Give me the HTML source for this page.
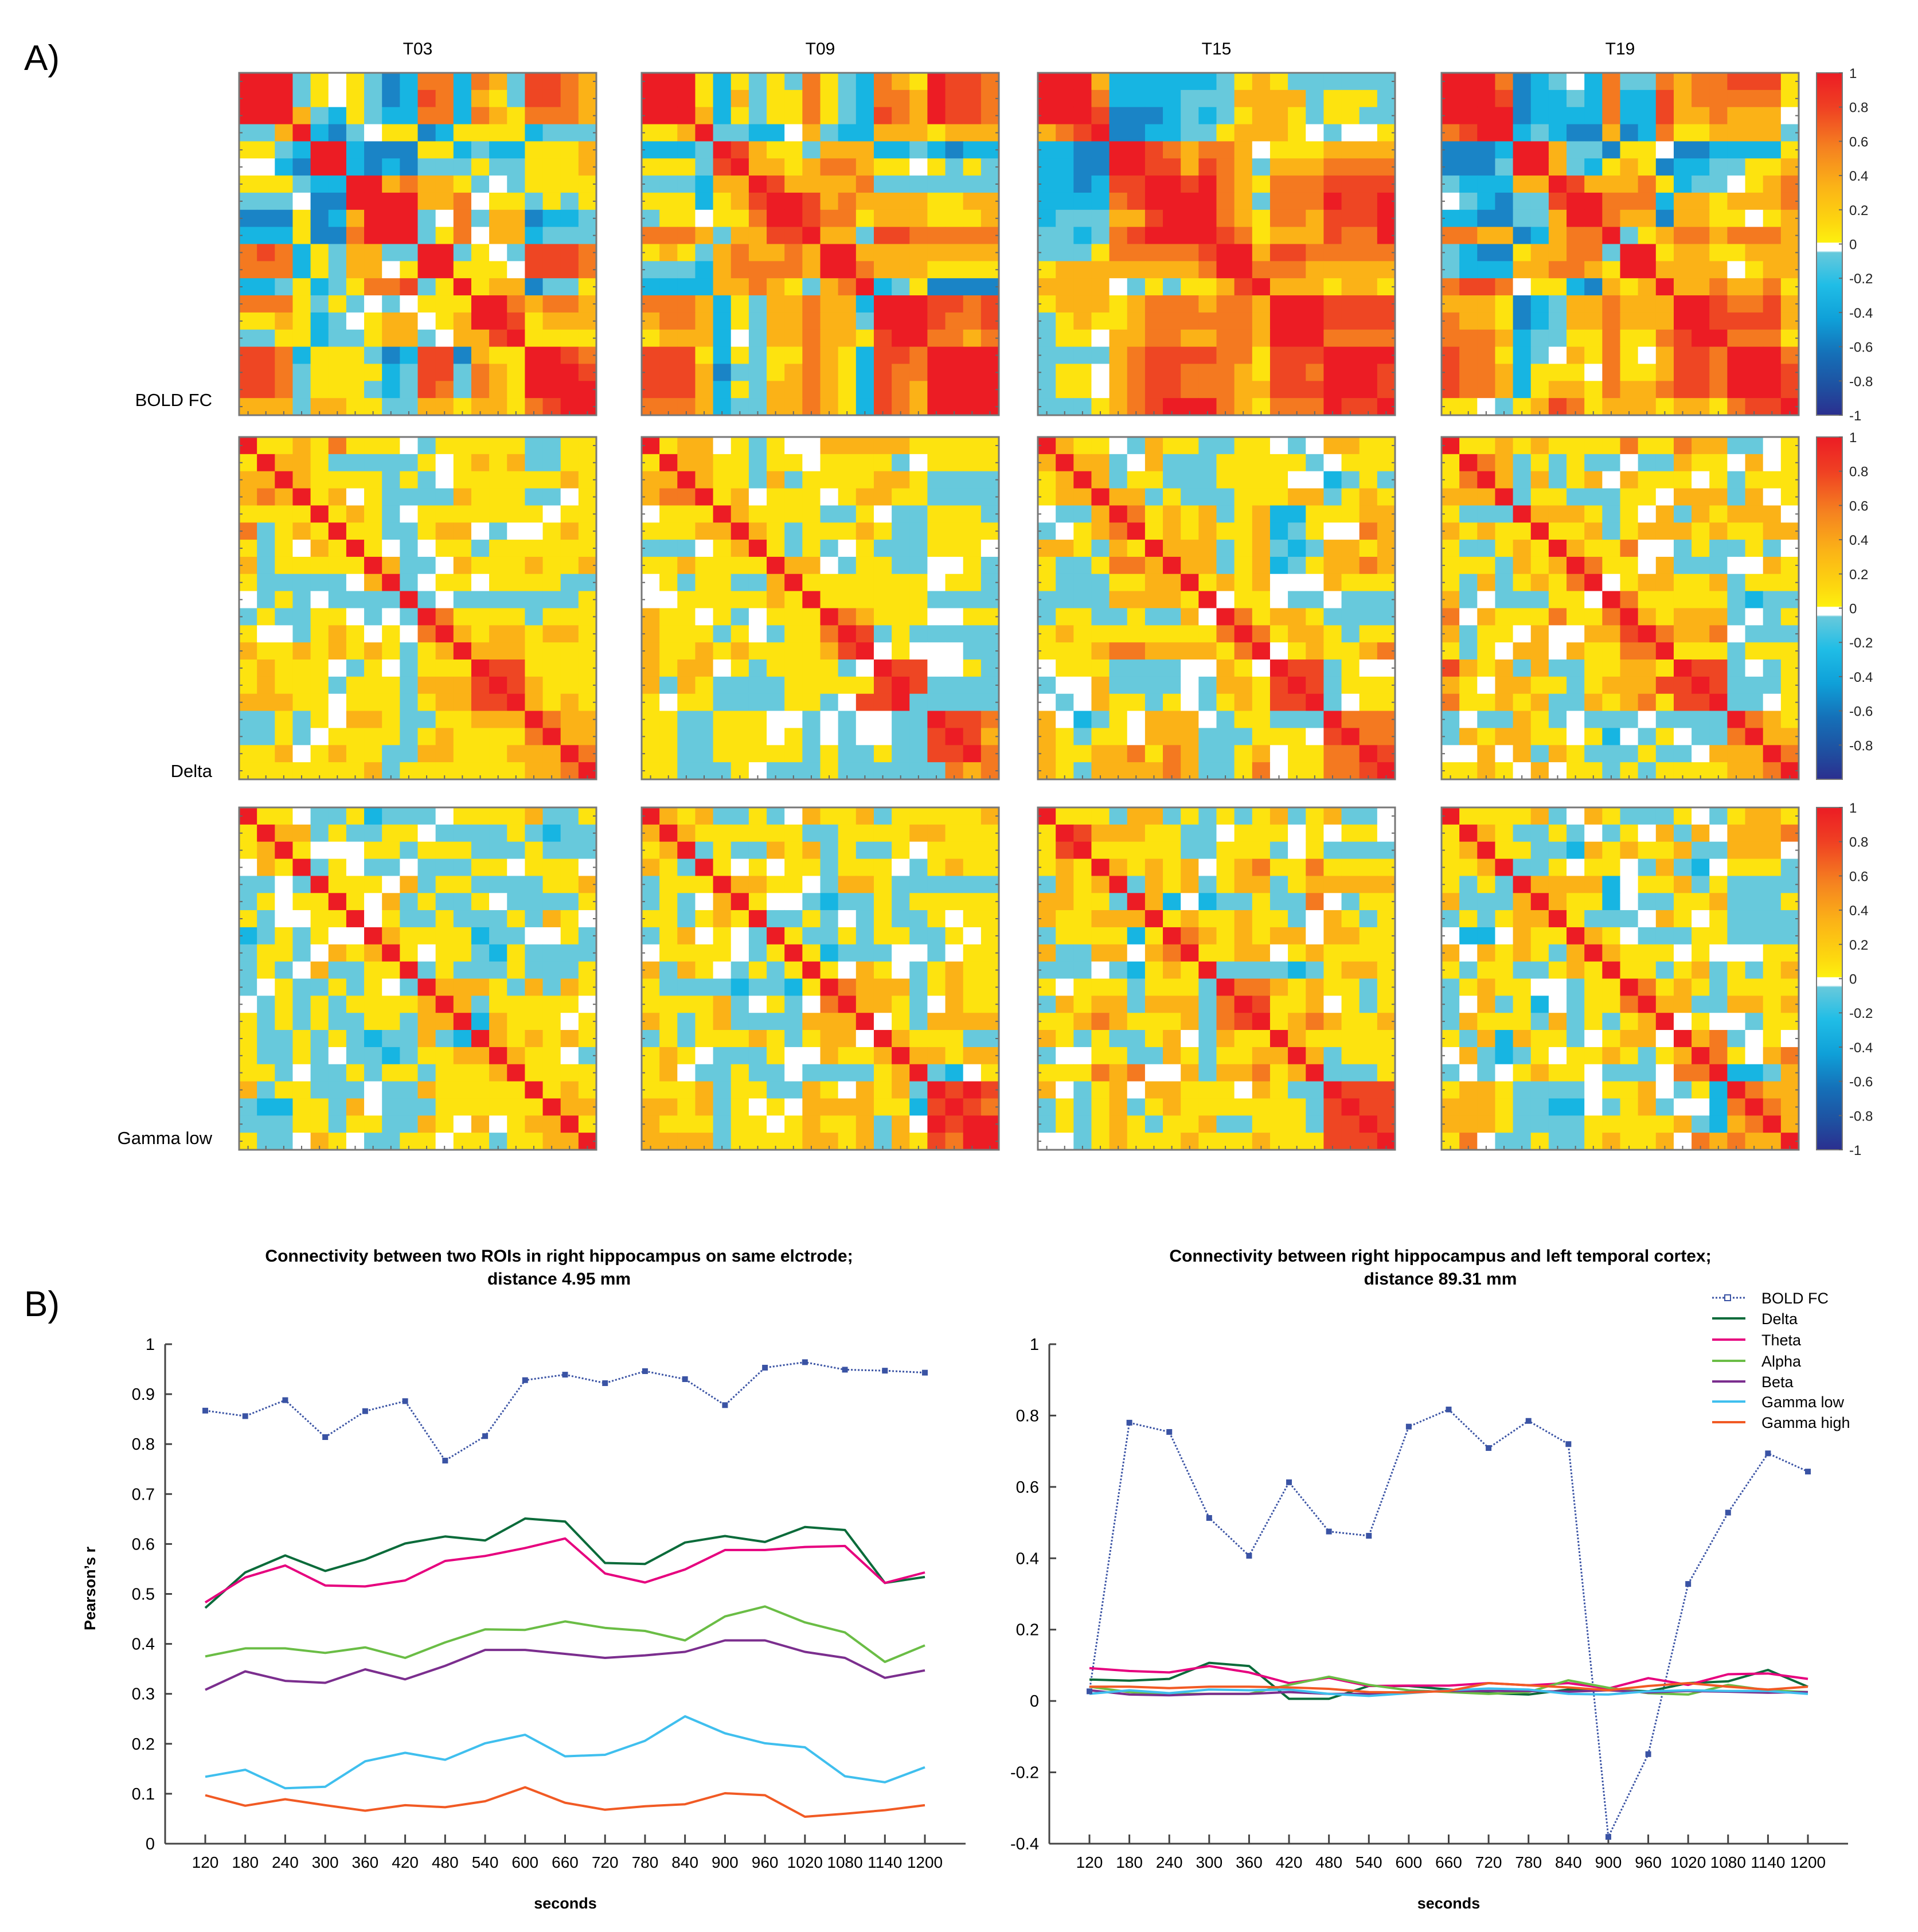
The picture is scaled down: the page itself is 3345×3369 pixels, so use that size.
<!DOCTYPE html>
<html><head><meta charset="utf-8">
<style>
html,body{margin:0;padding:0;background:#fff;}
svg{display:block;font-family:"Liberation Sans",sans-serif;}
</style></head>
<body>
<svg id="fig" xmlns="http://www.w3.org/2000/svg" width="3345" height="3369" viewBox="0 0 3345 3369">
<rect width="3345" height="3369" fill="#fff"/>
<text x="42" y="122" font-size="62">A)</text>
<text x="42" y="2295" font-size="62">B)</text>
<g id="heat"></g>
<g id="lines"></g>
</svg>
<script>
// ---------- Heatmap data (codes: R=.9 r=.75 o=.55 a=.35 y=.15 w=0 c=-.15 b=-.35 B=-.6) ----------
const codeValues = {R:0.9,r:0.75,o:0.55,a:0.35,y:0.15,w:0,c:-0.15,b:-0.35,B:-0.6};
const timeLabels = ["T03","T09","T15","T19"];
const rowLabels = ["BOLD FC","Delta","Gamma low"];
const boldT03 = ["RRRcywycBbooboacrroa","RRRcywycBbrobaycrroa","RRRacbycbbooboayoooa","ccaRbBcwyyBbyyyybccc","yycbRRbBBByybcbbyyya","wwbBRRbBbBcccyccyyya","yyycbbRRaoaaycwcyyyy","cccwBBRRRRaaowyycycy","BBByBbaRRRcwocaaBbbc","bbbyBBoRRRcyowaabccc","orobycaaccRRcywcrrro","ooobycaawyRRyyywrrro","bbcybcyoorcyRyaaBccy","oooycycwcwyyyRRoaooa","yyaybcwyaawyaRRryaaa","ccyybccyaacwaarRyyyy","rrobyyycBbrrBayyRRro","rrocyyyybcrrcoayRRRr","rrocyyycbcrocoayRRRR","aaacaayyccaayaayorRR"];
const boldT09 = ["RRRybycycoycboayRrro","RRRybacyyoycbooaRrro","RRRabycyyoycbroaRrro","yyaRccbbwacbbaaayaaa","bbbcRrayycaaabbcbBbb","yyycrRaayaooayywycyc","cccbaaRraaaaoccccccc","yyybyarRRraoaaaayyaa","cyywyyoRRrooyaaayyya","oooacaarrRaacrrooooo","yaycaoaaoaRRaaaaaaaa","cccbaooooaRRoaaayyyy","bbbbaaoaycaoRbcyBBBB","oooabycaaoaabRRRrror","aooabycaaoaacRRRroor","yaaabwcaaoaayrRRooao","rrrybycyyoaybrroRRRR","rrraBccyaoaybrooRRRR","rrrabycaaoaybroaRRRR","oooabccaaoaybroaRRRR"];
const boldT15 = ["RRRabbbbbbcyaycccccc","RRRobbbbcccaaaacyyyc","RRRrBBBbcbcyaaycyycc","aorRBBbbccyaaaywcwwy","bbBBRRroaooawyyyaaaa","bbBBRRrraroacaaaoooo","bbBbrrRRrRoayooorrrr","bbbborRRRRoacoooRrrR","bcccaarRRRoayooarrrR","ccbcorRRRRroyaaarooR","cccyooooorRRarrooooo","yaaaaaaaaoRRoooaaaaa","aaaawcycyyarRaaayaay","yaaayaoooaooaRRRrrrr","cyayyaooooooaRRRrrrr","cyywaaooaaooaRRRoooo","ccccaorrrrooyrrrRRRR","cyywaorroooayrroRRRr","cyywaorroooaarrrRRRr","cccyaorRRRoayoooRrrR"];
const boldT19 = ["RRRoBbcwboccoaoorrry","RRRrBbbcbobbraoooooy","RRRRBbbbbobbraaoaaaw","orRRbcbBBaBboyyaaaac","BBBbRRaccByywBBbbbby","BBBcRRacbyayBbbccyya","cbbbaaRraaaoybccwyao","wcbBccrRRooobaayaaao","bbBBccaRRoaaBaayywya","ooaaBbaooRcyaooaoooa","cbBByaaoocRRyaayyaaa","cbbbaaooayRRaaaawyaa","orrowyybBayaRaaoaaoy","aaayBbcaaoaaaRRroora","oaayBbcaaoaaaRRrrrra","oooabccyyoyyorRRoooy","rooybcwayoywarroRRRo","rooabyyywoyyarroRRRr","rooabyaayoaaorroRRRr","yywcyaroyaaayaayorrR"];
const deltaT03 = ["Ryyayoyyywcyyyyyccyy","yRaaycccccywyayaccyy","aaRayyyycycwyyyyyyay","aoaRyawyccccayyyccwy","yyyyRyaycwyyyyyyywyy","ocyayRyyccyaawcwwyay","ycywayRywcwyycyyyyyy","acyyyyyRaccwayyyayya","ycccccwaRcwyywyyyycc","wcycwccccRcwcccccccy","cyccyywcwcRoyyyycyyy","ywwcyaywywoRayaayaay","ayyayayaycyaRaaayyyy","yayyywcywcyyyRrryyyy","yayyycyyycaaarRrayyy","aaayywyyycyaarrRayay","ccycywaayccyyaaaRoaa","ccycwyyyycyayyyyoRaa","yyawyayyccaayyyaaaRo","yyyyyyyacyyyyyyyaaoR"];
const deltaT09 = ["Ryaawycywwaaaaayyyyy","yRaayycyywyyyycwyyyy","aaRayycacyyyyaaycccc","aooRyawyyywyaayycccc","wyyyRayyyyccywccyyyc","yyyaaRaycyyyayccyyyy","cccwyaRycycwycccyyyw","yyayyyyRaawcyyccwwyc","wycyyccaRyyyyyyywyyc","wwyyyyyayRyyyyyycccc","ayywycwyyyRoayyywwyy","ayyycywcyyoRrcyccccc","ayyayayyyyarRwywwwcc","ayaawycyyyycwRrrwwyc","acayccccyyyyyrRrcccc","ywyyccccyycwrrRccccc","yyccyyywwcwcwwccRrro","yyccyyywycwcwwccrRra","yyccyyyyycyccyccrrRo","yycccywcccyccccccoaoR"];
const deltaT15 = ["Rayywcayyccyywcwaayy","aRaacwacccyyyyycwyyy","yaRacyycccyyyywwbcyc","yaaRaacycccyyyaacyay","wccaRoyayacyabbyyyaa","cwyaoRyayayyabcywwoa","aaycayRaaacyacbcaaya","yccyooaRaacyabcyaaoa","ycccyyaaRyayawwwayyy","ccccaaaayRwyywccwccc","cyyccyccawRoyaaycccc","yayyyyyyyyoRoyaaycyy","yyyaooaaaayoRwyayyao","wyyyccccwwaywRrrcyww","cwwaccccwcaayrRrcyyy","wcwayycywcyayrrRcwyy","awbcywaaawcyycccRooo","aycyywaaacccyyywrRoo","ayyaaoyoaccyawyyooRr","aycaaaaoaccyowyyoorR"];
const deltaT19 = ["Ryyayayyyyoyyoaaccwy","yRoacycyccwccayywawy","yoRacacyawayyywycyyy","aaaRcyycccyywaaacawy","ycccRaaaycywacayaaaw","ayayyRyyacyaaayayyaa","yccyayRayyowwcyccycw","yyycayaRoyywacccwway","ycacyayoRwyaayyacyyy","acwcccyywRoyyyyycbcc","owayyyoyyoRayaaacwcy","acyywawwaarRoaaowccc","ycywaawayyooRyyycyyy","rayacaccyyaayRrrcwcy","aywaayycyaaarrRrcccy","oyyayaccayaoyrrRccwy","cwccaycwcccwccccRoay","cayaayywybwcywccoRaa","wwawacaycccyccwaaaRo","yyaywawyycycyyyyaaoR"];
const gammaT03 = ["Ryywccybcccwyyyyaccy","yRaacyccyywccccycbcc","yaRywwwyycyyycccyccc","wayRcywccwcccyywyyyw","ccwcRyyywacyyccccyya","cywyyRywacyccywccccy","ycwwyyRwyccycccycayw","bcycywwRayyyybccwwyc","cyycwayaRywyycbycccc","cycwaccyyRcycccycccy","cwyccycywcRaaaycacay","wcycycyyyyaRacyyyyyw","ycycyccyycaaRbayyywy","yccycycbccacbRayayay","yccycwccbcyyaaRayywc","yycwccycyycyyyaRyyyy","acyycccwccayyyyyRyay","cbbyycawcccyyyyyyRaa","cccyycyyccaywawyaaRy","yccwaywccyywyycyyaaR"];
const gammaT09 = ["Rayaccycwayyacyyyyya","aRayyyyyyccyyyyaayyy","yaRcyccayacyccywyyyy","aycRywywyycyyywcyayy","cyyyRaayywcaaycccccc","cycwaRywwcbccycyyyyy","yycyayRccycwcyccywyy","cyawywcRyccycyyccywy","wyyyywcyRybcccwwcwyy","acaywcycyRywaywcyayy","yccccbccbyRoaaacyayy","yyyyacwycwoRaaycwayy","aycyaccccaaaRwycaaaa","cycyyyaycyaawRayyycc","yaywcccywwayyaRaayaa","yawccyccwccccyaRcbwy","yyyacyyccaywayacRrRr","aayacywywaaaayybrRro","ayyycyywyayyacawRrRR","aaaacyyyyaayacayroRR"];
const gammaT15 = ["Ryyycaacycycyacyaccw","yRraaayyccwyyywywyyw","yrRyyyyyccyyycwycccc","yayRayayawyaoyyoyyyy","cayaRcayacyaacyaaaaa","aayycRabwbccyccowcyy","ayyaaaRyayyayycwaycy","cyyyybyRoayayaawaayy","accaawaoRyyaawyayyyy","cccwcbyayRccccbcyaay","ywyyycyyycRooayayycy","cayaacaaacoRryyawycy","yyaoayyyacorRyaoayya","aycyccyawcayyRayyyyy","cwwyyccaycyyaaRacyyy","yyyoaowwacaaoyaRcccy","awcyawaayyywayccRrrr","cycyacyayyyyyyycrRrr","cycyaycyyaccyyycrrRr","wwcyayyyayyyayyyrrrR"];
const gammaT19 = ["Ryyyyacwaycccywcyaay","yRayccycwcywacawaaao","yaRyyccbayayyaccaaaw","yyaRccywyywcacbwyyyc","ycycRaaaabwyyacycccc","acccaRayybwccyyacccy","cycyaaRycccwaywycccc","wbbwayyRaywcccyycccc","awayaycaRayyywywwwyy","ycyyccyayRyycyacycya","cyayywwcyyRoyaycyyyy","cwacybwcyyoRaaccaaya","cayyycacycyaRwywwcyy","ycabayycwyaawRaocwyw","wacbcywyyaycyaRoywao","cwcwyayywcccwooRbbca","yaayccccwyyawcybRoaa","aaayccbbwcyacwwboRoa","aaayccccyyyyyacbaoRa","yowccyccyayyawoaoaaR"];
const colorbarTicks = [1,0.8,0.6,0.4,0.2,0,-0.2,-0.4,-0.6,-0.8,-1];

// ---------- Line chart data ----------
const seconds = [120,180,240,300,360,420,480,540,600,660,720,780,840,900,960,1020,1080,1140,1200];
const seriesNames = ["BOLD FC","Delta","Theta","Alpha","Beta","Gamma low","Gamma high"];
const leftBold = [.867,.856,.888,.814,.866,.886,.767,.816,.928,.939,.922,.946,.930,.878,.953,.964,.949,.947,.943];
const leftDelta = [.472,.543,.577,.546,.569,.601,.615,.607,.651,.645,.562,.560,.603,.616,.604,.634,.628,.522,.534];
const leftTheta = [.483,.533,.557,.517,.515,.527,.566,.576,.592,.611,.541,.523,.549,.588,.588,.594,.596,.522,.543];
const leftAlpha = [.375,.391,.391,.382,.393,.372,.403,.429,.428,.445,.432,.426,.407,.455,.475,.443,.423,.364,.397];
const leftBeta = [.308,.345,.326,.322,.349,.329,.356,.388,.388,.380,.372,.377,.384,.407,.407,.384,.372,.332,.347];
const leftGammaLow = [.134,.148,.111,.114,.165,.182,.168,.201,.218,.175,.178,.206,.255,.221,.201,.193,.135,.123,.153];
const leftGammaHigh = [.097,.076,.089,.077,.066,.077,.073,.085,.113,.082,.068,.075,.079,.101,.097,.054,.060,.067,.077];
const rightBold = [.027,.78,.754,.513,.407,.613,.475,.463,.769,.817,.709,.785,.72,-.381,-.149,.328,.528,.694,.643];
const rightDelta = [.06,.057,.062,.107,.098,.006,.006,.042,.042,.032,.022,.018,.032,.032,.027,.05,.055,.087,.04];
const rightTheta = [.092,.084,.08,.098,.08,.05,.065,.042,.043,.043,.05,.044,.05,.035,.064,.045,.075,.077,.062];
const rightAlpha = [.04,.025,.02,.02,.02,.045,.068,.045,.03,.025,.02,.025,.058,.037,.022,.018,.045,.03,.025];
const rightBeta = [.03,.018,.016,.02,.02,.025,.02,.02,.025,.028,.028,.028,.026,.03,.024,.028,.026,.023,.025];
const rightGammaLow = [.02,.03,.022,.032,.03,.032,.02,.014,.022,.03,.035,.032,.02,.018,.027,.03,.028,.028,.02];
const rightGammaHigh = [.04,.04,.036,.04,.04,.038,.034,.025,.024,.028,.05,.044,.038,.03,.042,.05,.04,.032,.04];
const leftTicks = [0,0.1,0.2,0.3,0.4,0.5,0.6,0.7,0.8,0.9,1];
const rightTicks = [-0.4,-0.2,0,0.2,0.4,0.6,0.8,1];

const NS = "http://www.w3.org/2000/svg";
function mk(tag, attrs, parent){const e=document.createElementNS(NS,tag);for(const k in attrs)e.setAttribute(k,attrs[k]);parent.appendChild(e);return e;}
function decode(rows){return rows.map(s=>{s=s.replace(/\s/g,"");const out=[];for(let i=0;i<20;i++){const ch=s[i]||"w";let v=codeValues[ch];if(v===undefined)v=codeValues[ch.toLowerCase()];if(v===undefined)v=0;out.push(v);}return out;});}
function cellColor(v){
  if(v>=0.85)return"#ec1c24"; if(v>=0.65)return"#ee4623"; if(v>=0.45)return"#f47920";
  if(v>=0.25)return"#fbb217"; if(v>=0.05)return"#fde30f"; if(v>-0.05)return"#ffffff";
  if(v>-0.25)return"#67c9dc"; if(v>-0.45)return"#17b5e2"; return"#1a84c6";
}

// ---------- Heatmaps ----------
const heat = document.getElementById("heat");
const matrices = [[boldT03,boldT09,boldT15,boldT19],[deltaT03,deltaT09,deltaT15,deltaT19],[gammaT03,gammaT09,gammaT15,gammaT19]];
const colX = [417,1119,1810,2514], rowY = [127,762,1408], HW = 623, HH = 597;
const rowLabelY = [708,1355,1995];
timeLabels.forEach((t,j)=>{
  const tx = mk("text",{x:colX[j]+HW/2,y:95,"text-anchor":"middle","font-size":30},heat);
  tx.textContent=t;
  
  
});
rowLabels.forEach((lab,i)=>{
  const tx = mk("text",{x:370,y:rowLabelY[i],"text-anchor":"end","font-size":31},heat);
  tx.textContent=lab;
  
  
});
matrices.forEach((row,i)=>{
  row.forEach((m,j)=>{
    const vals = decode(m);
    const g = mk("g",{},heat);
    
    
    const cw = HW/20, ch = HH/20;
    vals.forEach((r,ri)=>r.forEach((v,ci)=>{
      const c = mk("rect",{x:colX[j]+ci*cw,y:rowY[i]+ri*ch,width:cw+0.6,height:ch+0.6,fill:cellColor(v)},g);
      
      
    }));
    for(let k=0;k<20;k++){
      const yy=rowY[i]+(k+0.5)*ch, xx=colX[j]+(k+0.5)*cw;
      mk("line",{x1:colX[j],x2:colX[j]+6,y1:yy,y2:yy,stroke:"#666","stroke-width":2},g);
      mk("line",{x1:colX[j]+HW-6,x2:colX[j]+HW,y1:yy,y2:yy,stroke:"#666","stroke-width":2},g);
      mk("line",{x1:xx,x2:xx,y1:rowY[i]+HH-7,y2:rowY[i]+HH,stroke:"#666","stroke-width":2},g);
    }
    mk("rect",{x:colX[j],y:rowY[i],width:HW,height:HH,fill:"none",stroke:"#777","stroke-width":3},g);
  });
  // colorbar
  const cbx=3168, cbw=45, top=rowY[i], h=HH;
  const gid="cbg"+i;
  const defs=mk("defs",{},heat);
  const lg=mk("linearGradient",{id:gid,x1:0,y1:0,x2:0,y2:1},defs);
  [[0,"#ec1c24"],[0.1,"#ef4023"],[0.22,"#f58220"],[0.33,"#fbb217"],[0.44,"#fdd80f"],[0.495,"#fdf00f"],[0.497,"#ffffff"],[0.52,"#ffffff"],[0.525,"#67c9dc"],[0.62,"#20bde6"],[0.72,"#0fa0d8"],[0.82,"#1570b8"],[0.92,"#1f4fa0"],[1,"#2b2f8f"]].forEach(s=>mk("stop",{offset:s[0],"stop-color":s[1]},lg));
  const cb=mk("rect",{x:cbx,y:top,width:cbw,height:h,fill:"url(#"+gid+")",stroke:"#777","stroke-width":2},heat);
  
  
  colorbarTicks.forEach(v=>{
    if(i===1 && v===-1) return;
    const yy=top+(1-v)/2*h;
    mk("line",{x1:cbx+cbw-6,x2:cbx+cbw,y1:yy,y2:yy,stroke:"#666","stroke-width":2},heat);
    const t=mk("text",{x:cbx+cbw+12,y:yy+9,"font-size":24,fill:"#222"},heat);
    t.textContent=String(v);
    
    
  });
});

// ---------- Line charts ----------
const lines = document.getElementById("lines");
const colors = ["#3a53a4","#0a6b3a","#e6007e","#6abd45","#7b2e8e","#3fbfee","#f15a24"];
function drawChart(cfg){
  const g=mk("g",{},lines);
  
  
  const xs=v=>cfg.x0+(v-120)/(1200-120)*(cfg.x1-cfg.x0);
  const ys=v=>cfg.yb-(v-cfg.ymin)/(cfg.ymax-cfg.ymin)*(cfg.yb-cfg.yt);
  mk("line",{x1:cfg.ax,x2:cfg.axEnd,y1:cfg.yb,y2:cfg.yb,stroke:"#444","stroke-width":3},g);
  mk("line",{x1:cfg.ax,x2:cfg.ax,y1:cfg.yt,y2:cfg.yb,stroke:"#444","stroke-width":3},g);
  cfg.ticks.forEach(v=>{
    const yy=ys(v);
    mk("line",{x1:cfg.ax,x2:cfg.ax+12,y1:yy,y2:yy,stroke:"#444","stroke-width":3},g);
    const t=mk("text",{x:cfg.ax-18,y:yy+10,"text-anchor":"end","font-size":29},g);
    t.textContent=String(v);
    
    
  });
  seconds.forEach(s=>{
    const xx=xs(s);
    mk("line",{x1:xx,x2:xx,y1:cfg.yb-16,y2:cfg.yb,stroke:"#444","stroke-width":3},g);
    const t=mk("text",{x:xx,y:cfg.yb+42,"text-anchor":"middle","font-size":28},g);
    t.textContent=String(s);
    
    
  });
  const t1=mk("text",{x:cfg.tc,y:2200,"text-anchor":"middle","font-size":30,"font-weight":"bold"},g);
  t1.textContent=cfg.title1;
  
  
  const t2=mk("text",{x:cfg.tc,y:2240,"text-anchor":"middle","font-size":30,"font-weight":"bold"},g);
  t2.textContent=cfg.title2;
  
  
  const xl=mk("text",{x:(cfg.ax+cfg.axEnd)/2,y:3328,"text-anchor":"middle","font-size":27,"font-weight":"bold"},g);
  xl.textContent="seconds";
  
  
  cfg.series.forEach((arr,k)=>{
    const pts=arr.map((v,idx)=>xs(seconds[idx]).toFixed(1)+","+ys(v).toFixed(1)).join(" ");
    const pl=mk("polyline",{points:pts,fill:"none",stroke:colors[k],"stroke-width":k===0?3:4,"stroke-linejoin":"round"},g);
    if(k===0) pl.setAttribute("stroke-dasharray","3,3");
    
    
  });
  cfg.series[0].forEach((v,idx)=>{
    const m=mk("rect",{x:xs(seconds[idx])-5,y:ys(v)-5,width:10,height:10,fill:colors[0]},g);
    
    
  });
  return g;
}
const leftG = drawChart({name:"chart-same-electrode",x0:358,x1:1613,ax:288,axEnd:1684,yt:2344,yb:3215,ymin:0,ymax:1,ticks:leftTicks,tc:975,
  title1:"Connectivity between two ROIs in right hippocampus on same elctrode;",title2:"distance 4.95 mm",
  series:[leftBold,leftDelta,leftTheta,leftAlpha,leftBeta,leftGammaLow,leftGammaHigh]});
const yl=mk("text",{x:0,y:0,"text-anchor":"middle","font-size":27,"font-weight":"bold",transform:"translate(166,2770) rotate(-90)"},leftG);
yl.textContent="Pearson\u2019s r";


drawChart({name:"chart-distant-regions",x0:1900,x1:3153,ax:1830,axEnd:3223,yt:2344,yb:3215,ymin:-0.4,ymax:1,ticks:rightTicks,tc:2512,
  title1:"Connectivity between right hippocampus and left temporal cortex;",title2:"distance 89.31 mm",
  series:[rightBold,rightDelta,rightTheta,rightAlpha,rightBeta,rightGammaLow,rightGammaHigh]});
// legend
const leg=mk("g",{},lines);


const legY=[2263,2299,2336,2373,2409,2444,2480];
seriesNames.forEach((n,k)=>{
  const e=mk("g",{},leg);
  
  
  const ln=mk("line",{x1:2986,x2:3044,y1:legY[k],y2:legY[k],stroke:colors[k],"stroke-width":k===0?3:4},e);
  if(k===0){ln.setAttribute("stroke-dasharray","3,3");mk("rect",{x:3008,y:legY[k]-5,width:10,height:10,fill:"#fff",stroke:colors[0],"stroke-width":2},e);}
  const t=mk("text",{x:3072,y:legY[k]+10,"font-size":27},e);
  t.textContent=n;
});
</script>
</body></html>
